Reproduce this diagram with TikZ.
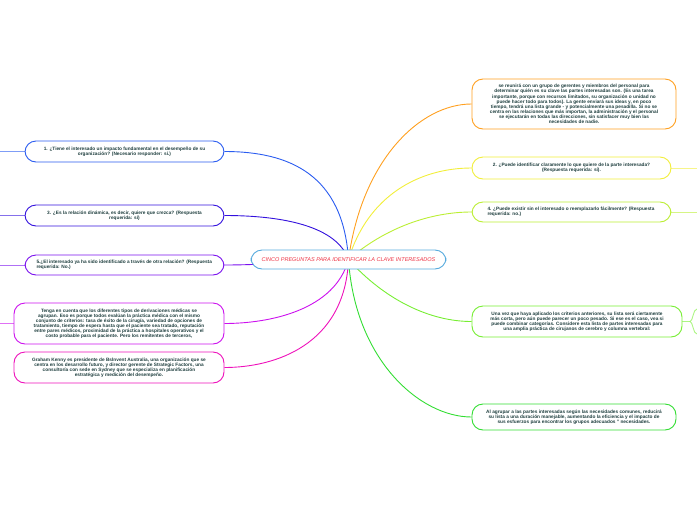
\documentclass[tikz,border=0pt]{standalone}
\usepackage{fontspec}
\setmainfont{Liberation Sans}
\usetikzlibrary{backgrounds}

\definecolor{inkc}{HTML}{1F3F3F}
\definecolor{rootred}{HTML}{EE3344}
\definecolor{rootblue}{HTML}{55AADD}
\definecolor{cblue}{HTML}{2A5CF0}
\definecolor{cindigo}{HTML}{3311DD}
\definecolor{cpurple}{HTML}{7A11EE}
\definecolor{cmagenta}{HTML}{CC11EE}
\definecolor{cpink}{HTML}{EE11BB}
\definecolor{corange}{HTML}{FFA020}
\definecolor{cyellow}{HTML}{F2EE3A}
\definecolor{clime}{HTML}{BBEE33}
\definecolor{cgreen}{HTML}{77EE33}
\definecolor{cdgreen}{HTML}{33DD33}

\begin{document}
\begin{tikzpicture}[x=1pt, y=-1pt,
    idea/.style={draw, fill=white, rounded corners=11pt, line width=0.9pt,
                 text=inkc, font=\bfseries\fontsize{4.75}{5.1}\selectfont,
                 align=flush center, inner sep=2pt},
    branch/.style={line width=0.9pt},
    stub/.style={line width=0.9pt, opacity=0.6}]

    \useasboundingbox (0,0) rectangle (697,520);

    % Central topic
    \node[idea, draw=rootblue, text=rootred, minimum width=195pt, minimum height=19pt,
          font=\itshape\fontsize{5.5}{6.5}\selectfont] (root) at (348.5,259.5)
          {CINCO PREGUNTAS PARA IDENTIFICAR LA CLAVE INTERESADOS};

    % Right side topics
    \node[idea, draw=corange, minimum width=204pt, minimum height=50pt, text width=172pt]
          (reunion) at (574,104)
          {se reunirá con un grupo de gerentes y miembros del personal para determinar quién es su clave las partes interesadas son. (Es una tarea importante, porque con recursos limitados, su organización o unidad no puede hacer todo para todos). La gente enviará sus ideas y, en poco tiempo, tendrá una lista grande - y potencialmente una pesadilla. Si no se centra en las relaciones que más importan, la administración y el personal se ejecutarán en todas las direcciones, sin satisfacer muy bien las necesidades de nadie.};
    \node[idea, draw=cyellow, minimum width=199pt, minimum height=22pt, text width=166pt]
          (q2) at (571.5,168)
          {2. ¿Puede identificar claramente lo que quiere de la parte interesada? (Respuesta requerida: sí).};
    \node[idea, draw=clime, minimum width=199pt, minimum height=20pt, text width=168pt, align=flush left]
          (q4) at (571.5,212)
          {4. ¿Puede existir sin el interesado o reemplazarlo fácilmente? (Respuesta requerida: no.)};
    \node[idea, draw=cgreen, minimum width=210pt, minimum height=31pt, text width=176pt]
          (unavez) at (577,321.5)
          {Una vez que haya aplicado los criterios anteriores, su lista será ciertamente más corta, pero aún puede parecer un poco pesado. Si ese es el caso, vea si puede combinar categorías. Considere esta lista de partes interesadas para una amplia práctica de cirujanos de cerebro y columna vertebral:};
    \node[idea, draw=cdgreen, minimum width=204pt, minimum height=26pt, text width=178pt]
          (agrupar) at (574,417)
          {Al agrupar a las partes interesadas según las necesidades comunes, reducirá su lista a una duración manejable, aumentando la eficiencia y el impacto de sus esfuerzos para encontrar los grupos adecuados " necesidades.};

    % Left side topics
    \node[idea, draw=cblue, minimum width=199pt, minimum height=21pt, text width=168pt]
          (q1) at (124.5,151.5)
          {1. ¿Tiene el interesado un impacto fundamental en el desempeño de su organización? (Necesario responder: sí.)};
    \node[idea, draw=cindigo, minimum width=199pt, minimum height=21pt, text width=160pt]
          (q3) at (124.5,215.5)
          {3. ¿Es la relación dinámica, es decir, quiere que crezca? (Respuesta requerida: sí)};
    \node[idea, draw=cpurple, minimum width=199pt, minimum height=20pt, text width=176pt, align=flush left]
          (q5) at (124.5,265)
          {5.¿El interesado ya ha sido identificado a través de otra relación? (Respuesta requerida: No.)};
    \node[idea, draw=cmagenta, minimum width=210pt, minimum height=41pt, text width=174pt]
          (tenga) at (119,323.5)
          {Tenga en cuenta que los diferentes tipos de derivaciones médicas se agrupan. Eso es porque todos evalúan la práctica médica con el mismo conjunto de criterios: tasa de éxito de la cirugía, variedad de opciones de tratamiento, tiempo de espera hasta que el paciente sea tratado, reputación entre pares médicos, proximidad de la práctica a hospitales operativos y el costo probable para el paciente. Pero los remitentes de terceros,};
    \node[idea, draw=cpink, minimum width=210pt, minimum height=31pt, text width=178pt]
          (graham) at (119,367.5)
          {Graham Kenny es presidente de Bslnvent Australia, una organización que se centra en los desarrollo futuro, y director gerente de Strategic Factors, una consultoría con sede en Sydney que se especializa en planificación estratégica y medición del desempeño.};

    % Free ends of the short stubs at the page edges
    \coordinate (q1end) at (0,151.5);
    \coordinate (q3end) at (0,215.5);
    \coordinate (q5end) at (0,265);
    \coordinate (tengaend) at (0,323.5);
    \coordinate (q2end) at (697,168);
    \coordinate (q4end) at (697,212);
    \coordinate (unavezfork) at (690,321.5);
    \coordinate (unavezup) at (697,309);
    \coordinate (unavezdown) at (697,334);

    \begin{scope}[on background layer]
    % Branches to the left
    \draw[branch, cblue] (root.center) .. controls (343,175) and (290,151.5) .. (q1.east);
    \draw[branch, cindigo] (root.center) .. controls (335,222) and (270,215.5) .. (q3.east);
    \draw[branch, cpurple] (root.center) .. controls (300,262) and (260,265) .. (q5.east);
    \draw[branch, cmagenta] (root.center) .. controls (335,310) and (270,323.5) .. (tenga.east);
    \draw[branch, cpink] (root.center) .. controls (345,345) and (275,367.5) .. (graham.east);

    % Branches to the right
    \draw[branch, corange] (root.center) .. controls (362,160) and (420,104) .. (reunion.west);
    \draw[branch, cyellow] (root.center) .. controls (368,195) and (420,168) .. (q2.west);
    \draw[branch, clime] (root.center) .. controls (385,228) and (430,212) .. (q4.west);
    \draw[branch, cgreen] (root.center) .. controls (385,300) and (430,321.5) .. (unavez.west);
    \draw[branch, cdgreen] (root.center) .. controls (355,360) and (420,417) .. (agrupar.west);

    % Stubs
    \draw[stub, cblue] (q1.west) -- (q1end);
    \draw[stub, cindigo] (q3.west) -- (q3end);
    \draw[stub, cpurple] (q5.west) -- (q5end);
    \draw[stub, cmagenta] (tenga.west) -- (tengaend);
    \draw[stub, cyellow] (q2.east) -- (q2end);
    \draw[stub, clime] (q4.east) -- (q4end);
    \draw[stub, cgreen] (unavez.east) -- (unavezfork);
    \draw[stub, cgreen] (unavezfork) .. controls (693,321.5) and (693,309) .. (unavezup);
    \draw[stub, cgreen] (unavezfork) .. controls (693,321.5) and (693,334) .. (unavezdown);
    \end{scope}

\end{tikzpicture}
\end{document}
